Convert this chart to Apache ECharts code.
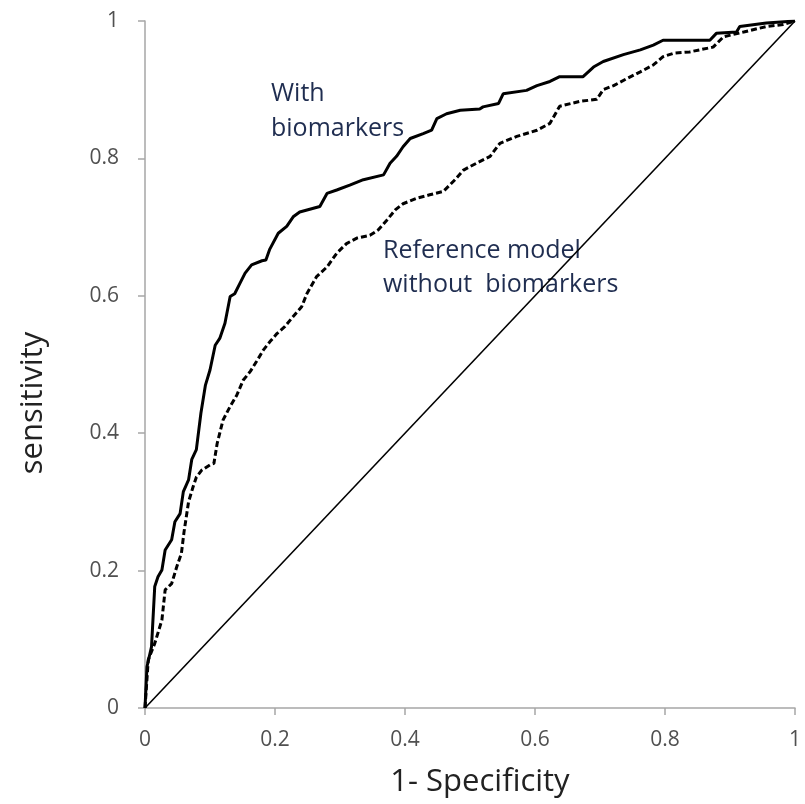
<!DOCTYPE html>
<html>
<head>
<meta charset="utf-8">
<script src="https://cdn.jsdelivr.net/npm/echarts@6/dist/echarts.min.js"></script>
<style>
html,body{margin:0;padding:0;background:#fff;}
#chart{width:805px;height:804px;}
</style>
</head>
<body>
<div id="chart"></div>
<script>
// 1 - specificity / sensitivity, model with biomarkers
const withBioX = [0,0.003,0.010,0.015,0.020,0.026,0.031,0.041,0.046,0.054,0.059,0.067,0.072,0.079,0.086,0.093,0.100,0.108,0.115,0.123,0.131,0.138,0.146,0.154,0.164,0.180,0.186,0.192,0.205,0.218,0.228,0.238,0.269,0.280,0.295,0.315,0.336,0.367,0.377,0.387,0.397,0.408,0.428,0.441,0.449,0.464,0.485,0.515,0.520,0.544,0.551,0.587,0.603,0.623,0.638,0.674,0.690,0.705,0.736,0.762,0.782,0.797,0.869,0.879,0.910,0.915,0.956,1];
const withBioY = [0,0.060,0.089,0.177,0.191,0.201,0.230,0.245,0.271,0.283,0.315,0.332,0.362,0.376,0.429,0.470,0.492,0.528,0.538,0.560,0.599,0.603,0.618,0.633,0.645,0.651,0.652,0.668,0.691,0.701,0.715,0.722,0.730,0.749,0.754,0.761,0.769,0.776,0.793,0.803,0.817,0.829,0.836,0.841,0.858,0.865,0.870,0.872,0.875,0.880,0.894,0.899,0.906,0.912,0.919,0.919,0.933,0.941,0.951,0.958,0.965,0.972,0.972,0.982,0.984,0.992,0.997,1];
// reference model without biomarkers
const refX = [0,0.005,0.015,0.026,0.031,0.041,0.049,0.056,0.060,0.067,0.074,0.079,0.087,0.100,0.106,0.111,0.120,0.131,0.141,0.151,0.162,0.172,0.182,0.192,0.203,0.215,0.228,0.241,0.249,0.264,0.280,0.295,0.310,0.326,0.346,0.359,0.372,0.385,0.397,0.418,0.438,0.459,0.477,0.490,0.510,0.531,0.546,0.572,0.603,0.623,0.638,0.669,0.695,0.705,0.721,0.741,0.762,0.782,0.797,0.813,0.838,0.874,0.890,0.921,0.956,0.982,1];
const refY = [0,0.070,0.094,0.128,0.172,0.181,0.206,0.225,0.256,0.300,0.322,0.336,0.346,0.354,0.356,0.385,0.419,0.439,0.455,0.477,0.490,0.505,0.521,0.533,0.545,0.555,0.570,0.584,0.603,0.628,0.642,0.662,0.676,0.684,0.688,0.696,0.710,0.725,0.734,0.742,0.747,0.752,0.769,0.783,0.793,0.803,0.822,0.832,0.841,0.851,0.876,0.883,0.886,0.900,0.906,0.916,0.926,0.936,0.948,0.953,0.955,0.962,0.977,0.984,0.992,0.995,1];
// chance diagonal
const diagX = [0,1];
const diagY = [0,1];
const tickValues = [0,0.2,0.4,0.6,0.8,1];
const xTitle = '1- Specificity';
const yTitle = 'sensitivity';
const labelWith = ['With','biomarkers'];
const labelRef = ['Reference model','without  biomarkers'];

const zip = (xs, ys) => xs.map((x, i) => [x, ys[i]]);
const fmt = v => (tickValues.includes(Math.round(v*10)/10) ? String(Math.round(v*10)/10) : '');

const chart = echarts.init(document.getElementById('chart'), null, {renderer:'canvas'});
const axisCommon = {
  type:'value', min:0, max:1, interval:0.2,
  axisLine:{show:true, lineStyle:{color:'#a6a6a6', width:1.5}},
  axisTick:{show:true, length:7, lineStyle:{color:'#a6a6a6', width:1.5}},
  splitLine:{show:false},
  axisLabel:{color:'#505050', fontFamily:'Open Sans', fontSize:21, formatter:fmt}
};
const textColor = '#1f2d50';
const textFont = '25px "Open Sans"';
const titleFont = '31px "Open Sans"';
chart.setOption({
  animation:false,
  backgroundColor:'#fff',
  grid:{left:145, right:10, top:21, bottom:96, containLabel:false},
  xAxis:Object.assign({}, axisCommon, {
    axisLabel:Object.assign({}, axisCommon.axisLabel, {margin:22})
  }),
  yAxis:Object.assign({}, axisCommon, {
    axisLabel:Object.assign({}, axisCommon.axisLabel, {margin:26})
  }),
  graphic:[
    {type:'text', left:271, top:76, style:{text:labelWith.join('\n'), font:textFont, fill:textColor, lineHeight:35}},
    {type:'text', left:383, top:234, style:{text:labelRef.join('\n'), font:textFont, fill:textColor, lineHeight:34}},
    {type:'text', x:480, y:782, style:{text:xTitle, font:titleFont, fill:'#222', align:'center', verticalAlign:'middle'}},
    {type:'text', x:33, y:403, rotation:Math.PI/2, style:{text:yTitle, font:titleFont, fill:'#222', align:'center', verticalAlign:'middle'}}
  ],
  series:[
    {type:'line', data:zip(diagX, diagY), symbol:'none', lineStyle:{color:'#000', width:1.6}, z:1},
    {type:'line', data:zip(refX, refY), symbol:'none', lineStyle:{color:'#000', width:3, type:[6,3]}, z:2},
    {type:'line', data:zip(withBioX, withBioY), symbol:'none', lineStyle:{color:'#000', width:3}, z:3}
  ]
});
</script>
</body>
</html>
